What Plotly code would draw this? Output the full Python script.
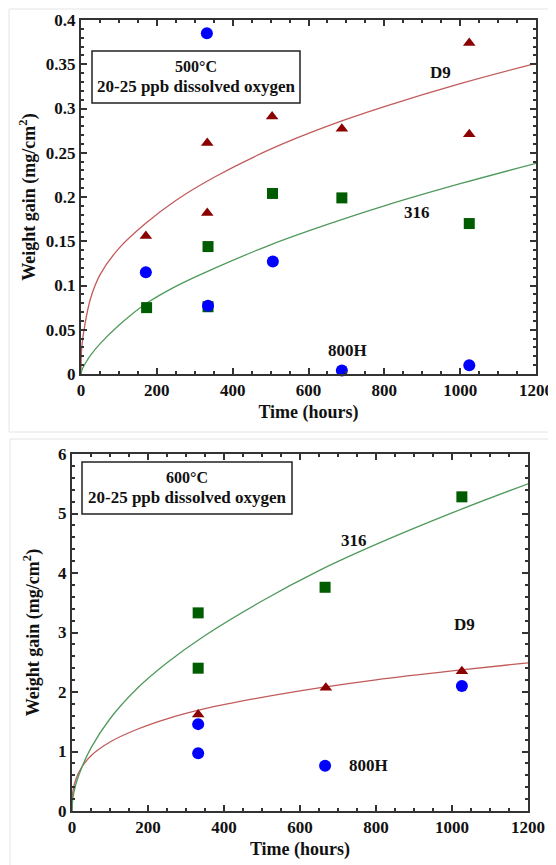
import plotly.graph_objects as go

# page body has an 8px margin, so the figure is sized to end at the window edge
OFF = 8
W, H = 556 - OFF, 865 - OFF

# ---------------- data: 500 C panel ----------------
t500_800H = [332, 171, 335, 506, 688, 1024]
w500_800H = [0.385, 0.115, 0.077, 0.127, 0.004, 0.010]

t500_D9 = [171, 333, 333, 504, 688, 1024, 1024]
w500_D9 = [0.156, 0.261, 0.182, 0.291, 0.277, 0.374, 0.271]

t500_316 = [173, 335, 335, 505, 688, 1024]
w500_316 = [0.075, 0.144, 0.076, 0.204, 0.199, 0.170]

fit_t = [0, 2, 10, 25, 50, 100, 170, 250, 350, 500, 650, 800, 1000, 1200]
fit500_D9 = [0, 0.030, 0.055, 0.085, 0.112, 0.142, 0.170, 0.196, 0.222, 0.254, 0.280, 0.302, 0.328, 0.351]
fit500_316 = [0, 0.004, 0.011, 0.021, 0.034, 0.055, 0.079, 0.099, 0.119, 0.146, 0.169, 0.190, 0.215, 0.238]

# ---------------- data: 600 C panel ----------------
t600_800H = [332, 332, 666, 1026]
w600_800H = [1.46, 0.97, 0.76, 2.10]

t600_D9 = [332, 668, 1026]
w600_D9 = [1.62, 2.07, 2.35]

t600_316 = [332, 332, 666, 1026]
w600_316 = [3.33, 2.40, 3.76, 5.28]

fit600_316 = [0, 0.20, 0.45, 0.72, 1.06, 1.55, 2.05, 2.49, 2.95, 3.53, 4.04, 4.48, 5.01, 5.50]
fit600_D9 = [0, 0.32, 0.53, 0.73, 0.93, 1.16, 1.37, 1.55, 1.72, 1.91, 2.07, 2.205, 2.355, 2.49]

# tick labels
xticks = [0, 200, 400, 600, 800, 1000, 1200]
yticks500 = [0, 0.05, 0.1, 0.15, 0.2, 0.25, 0.3, 0.35, 0.4]
ytext500 = ["0", "0.05", "0.1", "0.15", "0.2", "0.25", "0.3", "0.35", "0.4"]
yticks600 = [0, 1, 2, 3, 4, 5, 6]

BLUE = "#0000ff"
DRED = "#8b0000"
DGREEN = "#005c00"
LRED = "#c25a5a"
LGREEN = "#4f9a5c"
FONT = "Liberation Serif"
TXT = "#111111"


def px(x):
    return (x - OFF) / W


def py(y):
    return 1 - (y - OFF) / H


fig = go.Figure()


def add_panel(xa, ya, t_c, w_c, t_t, w_t, t_s, w_s, fd9, f316):
    fig.add_trace(go.Scatter(x=fit_t, y=fd9, mode="lines", line=dict(color=LRED, width=1.3, shape="spline"),
                             xaxis=xa, yaxis=ya, showlegend=False, hoverinfo="skip"))
    fig.add_trace(go.Scatter(x=fit_t, y=f316, mode="lines", line=dict(color=LGREEN, width=1.3, shape="spline"),
                             xaxis=xa, yaxis=ya, showlegend=False, hoverinfo="skip"))
    fig.add_trace(go.Scatter(x=t_s, y=w_s, mode="markers", name="316",
                             marker=dict(symbol="square", size=11, color=DGREEN),
                             xaxis=xa, yaxis=ya, showlegend=False, cliponaxis=False))
    fig.add_trace(go.Scatter(x=t_t, y=w_t, mode="markers", name="D9",
                             marker=dict(symbol="triangle-up", size=11, color=DRED),
                             xaxis=xa, yaxis=ya, showlegend=False, cliponaxis=False))
    fig.add_trace(go.Scatter(x=t_c, y=w_c, mode="markers", name="800H",
                             marker=dict(symbol="circle", size=12, color=BLUE),
                             xaxis=xa, yaxis=ya, showlegend=False, cliponaxis=False))


add_panel("x", "y", t500_800H, w500_800H, t500_D9, w500_D9, t500_316, w500_316, fit500_D9, fit500_316)
add_panel("x2", "y2", t600_800H, w600_800H, t600_D9, w600_D9, t600_316, w600_316, fit600_D9, fit600_316)

axis_common = dict(showline=True, linecolor="#333333", linewidth=2, mirror="allticks",
                   ticks="inside", ticklen=6, tickwidth=1.5, tickcolor="#333333",
                   showgrid=False, zeroline=False, automargin=False,
                   tickfont=dict(family=FONT, size=17, color=TXT, weight="bold"))

title_font = dict(family=FONT, size=18, color=TXT, weight="bold")

fig.update_layout(
    width=W, height=H, autosize=False,
    margin=dict(l=0, r=0, t=0, b=0),
    paper_bgcolor="white", plot_bgcolor="white",
    xaxis=dict(domain=[px(81), px(536)], anchor="y", range=[0, 1200],
               tickvals=xticks, minor=dict(dtick=50, ticks="inside", ticklen=3, tickcolor="#333333", showgrid=False),
               title=dict(text="Time (hours)", font=title_font, standoff=6), **axis_common),
    yaxis=dict(domain=[py(374), py(20)], anchor="x", range=[0, 0.4],
               tickvals=yticks500, ticktext=ytext500,
               minor=dict(dtick=0.01, ticks="inside", ticklen=3, tickcolor="#333333", showgrid=False),
               title=dict(text="Weight gain (mg/cm<sup>2</sup>)", font=title_font, standoff=6), **axis_common),
    xaxis2=dict(domain=[px(72), px(528)], anchor="y2", range=[0, 1200],
                tickvals=xticks, minor=dict(dtick=50, ticks="inside", ticklen=3, tickcolor="#333333", showgrid=False),
                title=dict(text="Time (hours)", font=title_font, standoff=6), **axis_common),
    yaxis2=dict(domain=[py(811), py(454)], anchor="x2", range=[0, 6],
                tickvals=yticks600,
                minor=dict(dtick=0.2, ticks="inside", ticklen=3, tickcolor="#333333", showgrid=False),
                title=dict(text="Weight gain (mg/cm<sup>2</sup>)", font=title_font, standoff=14), **axis_common),
)

shapes = [
    # light card borders
    dict(type="rect", xref="paper", yref="paper", x0=px(9), x1=px(560), y0=py(9), y1=py(432),
         line=dict(color="#e4e4e4", width=1)),
    dict(type="rect", xref="paper", yref="paper", x0=px(10), x1=px(560), y0=py(439), y1=py(870),
         line=dict(color="#e4e4e4", width=1)),
    # condition boxes
    dict(type="rect", xref="paper", yref="paper", x0=px(92), x1=px(300), y0=py(51), y1=py(103),
         line=dict(color="#222222", width=1.5), fillcolor="white"),
    dict(type="rect", xref="paper", yref="paper", x0=px(82), x1=px(292), y0=py(462), y1=py(514),
         line=dict(color="#222222", width=1.5), fillcolor="white"),
]

lab_font = dict(family=FONT, size=17, color=TXT, weight="bold")
box_font = dict(family=FONT, size=17, color=TXT, weight="bold")
deg_font = dict(family=FONT, size=16, color=TXT, weight="bold")
common_ann = dict(showarrow=False, xanchor="center", yanchor="middle")
annotations = [
    dict(text="500°C", x=px(196), y=py(66), xref="paper", yref="paper", font=deg_font, **common_ann),
    dict(text="20-25 ppb dissolved oxygen", x=px(196), y=py(86), xref="paper", yref="paper", font=box_font, **common_ann),
    dict(text="600°C", x=px(187), y=py(477), xref="paper", yref="paper", font=deg_font, **common_ann),
    dict(text="20-25 ppb dissolved oxygen", x=px(187), y=py(497), xref="paper", yref="paper", font=box_font, **common_ann),
    dict(text="D9", x=947, y=0.341, xref="x", yref="y", font=lab_font, **common_ann),
    dict(text="316", x=886, y=0.182, xref="x", yref="y", font=lab_font, **common_ann),
    dict(text="800H", x=702, y=0.026, xref="x", yref="y", font=lab_font, **common_ann),
    dict(text="316", x=742, y=4.55, xref="x2", yref="y2", font=lab_font, **common_ann),
    dict(text="D9", x=1032, y=3.13, xref="x2", yref="y2", font=lab_font, **common_ann),
    dict(text="800H", x=779, y=0.76, xref="x2", yref="y2", font=lab_font, **common_ann),
]

fig.update_layout(shapes=shapes, annotations=annotations)

fig.write_html("out.html")
